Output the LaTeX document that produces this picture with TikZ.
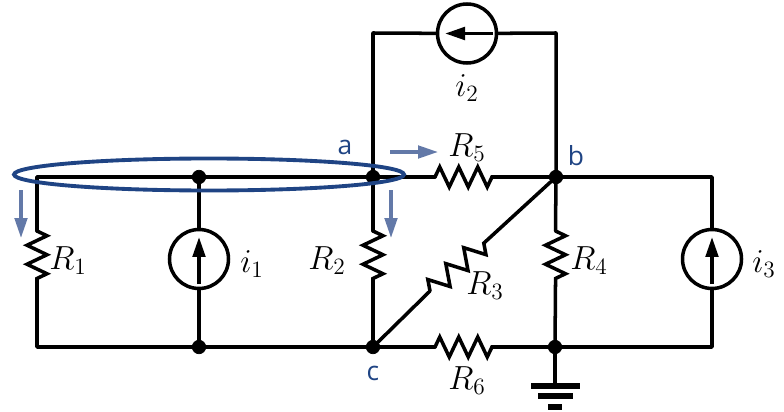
\documentclass[tikz,border=0pt]{standalone}
\usepackage{fix-cm}
\usepackage{fontspec}
\usetikzlibrary{arrows.meta,decorations.pathmorphing}
\newfontfamily\tagfont{Open Sans}
\definecolor{navy}{HTML}{1F4484}
\definecolor{slate}{HTML}{6379A8}
\tikzset{
  wire/.style={line width=2pt,line cap=round,line join=round},
  resistor/.style={wire,line join=miter,decorate,decoration={zigzag,segment length=.38cm,amplitude=.2cm}},
  joint/.style={circle,draw=black,fill=black,inner sep=0pt,minimum size=.27cm},
  source/.style={circle,draw=black,line width=2pt,inner sep=0pt,minimum size=1.18cm},
  flow/.style={line width=1.9pt,-{Triangle[length=.4cm,width=.25cm]}},
  inner/.style={line width=2pt,-{Triangle[length=.4cm,width=.25cm]}},
  val/.style={font=\fontsize{19}{22}\selectfont},
  tag/.style={text=navy,font=\tagfont\fontsize{15}{18}\selectfont},
  bar/.style={line width=2.9pt}
}
\begin{document}
\begin{tikzpicture}[x=.02cm,y=-.02cm]
\useasboundingbox (0,0) rectangle (784,412);
% corners and resistor ends
\coordinate (tl) at (37,177);
\coordinate (bl) at (37,347);
\coordinate (tr) at (712,177);
\coordinate (br) at (712,347);
\coordinate (ul) at (373,33);
\coordinate (ur) at (556,33);
\coordinate (r1a) at (37,231);
\coordinate (r1b) at (37,285);
\coordinate (r2a) at (373,231);
\coordinate (r2b) at (373,285);
\coordinate (r3a) at (430,291);
\coordinate (r3b) at (484,243);
\coordinate (r4a) at (555.5,231);
\coordinate (r4b) at (555.5,285);
\coordinate (r5a) at (435,177);
\coordinate (r5b) at (492,177);
\coordinate (r6a) at (435,347);
\coordinate (r6b) at (492,347);
\coordinate (gnd) at (555,386);
% joints and sources
\node[joint] (top) at (199,177) {};
\node[joint] (a) at (373,177) {};
\node[joint] (b) at (556,177) {};
\node[joint] (bot) at (199,347) {};
\node[joint] (c) at (373,347) {};
\node[joint] (d) at (555,347) {};
\node[source] (s1) at (199,259) {};
\node[source] (s2) at (467,33.5) {};
\node[source] (s3) at (712,259) {};
% wires
\draw[wire] (r1a) -- (tl) -- (top) -- (a) -- (r5a);
\draw[wire] (r5b) -- (b) -- (tr) -- (s3);
\draw[wire] (r1b) -- (bl) -- (bot) -- (c) -- (r6a);
\draw[wire] (r6b) -- (d) -- (br) -- (s3);
\draw[wire] (top) -- (s1) -- (bot);
\draw[wire] (a) -- (ul) -- (s2) -- (ur) -- (b);
\draw[wire] (a) -- (r2a);
\draw[wire] (r2b) -- (c);
\draw[wire] (c) -- (r3a);
\draw[wire] (r3b) -- (b);
\draw[wire] (b) -- (r4a);
\draw[wire] (r4b) -- (d);
\draw[wire] (d) -- (gnd);
% resistors
\draw[resistor] (r1a) -- (r1b);
\draw[resistor] (r2a) -- (r2b);
\draw[resistor,decoration={segment length=.48cm}] (r3a) -- (r3b);
\draw[resistor] (r4a) -- (r4b);
\draw[resistor] (r5a) -- (r5b);
\draw[resistor] (r6a) -- (r6b);
% ground
\draw[bar] (531,386) -- (580,386);
\draw[bar] (538,396) -- (573,396);
\draw[bar] (548,407) -- (562,407);
% source arrows
\draw[inner] (s1.center)+(0,25) -- +(0,-22);
\draw[inner] (s2.center)+(26,0) -- +(-22,0);
\draw[inner] (s3.center)+(0,25) -- +(0,-22);
% cut set
\draw[navy,line width=2.2pt] (209,174.5) ellipse (195 and 16);
\draw[slate,flow] (21,190) -- (21,238);
\draw[slate,flow] (391,190) -- (391,238);
\draw[slate,flow] (390,152) -- (438,152);
% labels
\node[val] at (68,261) {$R_1$};
\node[val] at (327,261) {$R_2$};
\node[val] at (485,286) {$R_3$};
\node[val] at (589,261) {$R_4$};
\node[val] at (467,148) {$R_5$};
\node[val] at (467,381) {$R_6$};
\node[val] at (252,264) {$i_1$};
\node[val] at (467,88) {$i_2$};
\node[val] at (764,264) {$i_3$};
\node[tag] at (345,147) {a};
\node[tag] at (576,156) {b};
\node[tag] at (373,373) {c};
\end{tikzpicture}
\end{document}
